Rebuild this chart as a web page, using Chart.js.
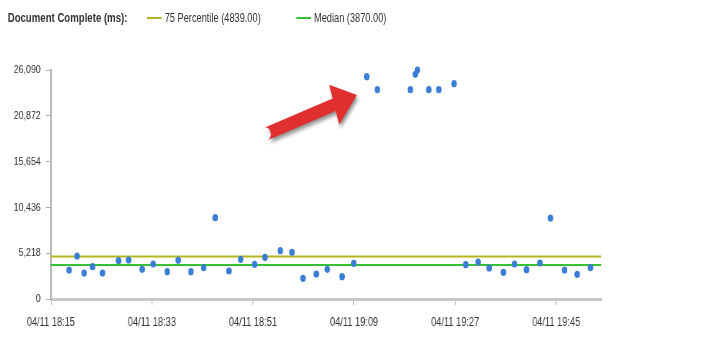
<!DOCTYPE html>
<html><head><meta charset="utf-8">
<script src="https://cdn.jsdelivr.net/npm/chart.js@4"></script>
<style>
html,body{margin:0;padding:0;background:#fff;overflow:hidden;width:705px;height:356px;}
#wrap{position:relative;width:916px;height:356px;transform:scaleX(0.76965);transform-origin:0 0;}
#chart{position:absolute;left:0;top:0;}
.lg{position:absolute;top:11px;font-family:'Liberation Sans',Arial,sans-serif;font-size:12px;color:#333;white-space:nowrap;line-height:14px;}
.sw{position:absolute;top:17px;height:2px;width:19px;}
</style></head>
<body>
<div id="wrap">
<canvas id="chart" width="916" height="356"></canvas>
<div class="lg" style="left:10px;font-weight:bold;font-size:12.5px;">Document Complete (ms):</div>
<div class="sw" style="left:191px;background:#b5b41c;"></div>
<div class="lg" style="left:214px;">75 Percentile (4839.00)</div>
<div class="sw" style="left:385px;background:#36c036;"></div>
<div class="lg" style="left:408px;">Median (3870.00)</div>
</div>
<script>
const dateLabel = '04/11';
const startTime = '18:15';
const endTime = '19:53';
const times = ['18:18:16','18:19:41','18:20:56','18:22:26','18:24:13','18:27:04','18:28:51','18:31:16','18:33:14','18:35:44',
  '18:37:41','18:39:57','18:42:13','18:44:17','18:46:43','18:48:49','18:51:18','18:53:08','18:55:52','18:57:57',
  '18:59:55','19:02:17','19:04:14','19:06:52','19:08:57','19:11:16','19:13:09','19:19:02','19:19:55','19:20:17',
  '19:22:19','19:24:06','19:26:49','19:28:54','19:31:06','19:33:04','19:35:36','19:37:34','19:39:43','19:42:06',
  '19:43:59','19:46:29','19:48:44','19:51:07'];
const docComplete = [3304,4899,2962,3680,2962,4363,4443,3384,3988,3110,
  4409,3110,3566,9263,3190,4523,3953,4751,5503,5320,
  2358,2848,3384,2541,4067,25327,23846,23846,25600,26090,
  23846,23846,24529,3908,4215,3532,3042,3988,3338,4101,
  9228,3304,2814,3566];
const percentile75 = 4839;
const median = 3870;
const xTickTimes = ['18:15','18:33','18:51','19:09','19:27','19:45'];
const yTickValues = [0,5218,10436,15654,20872,26090];
const arrowFrom = {t:'18:53:18', v:18800};
const arrowTo = {t:'19:09:30', v:23240};

function toMin(s){const p=s.split(':').map(Number);return p[0]*60+p[1]+(p[2]||0)/60;}
const base = toMin(startTime);
const rel = s => toMin(s)-base;
const xMax = rel(endTime);
function fmt(m){const tot=Math.round(m+base);const h=Math.floor(tot/60),mm=tot%60;return dateLabel+' '+String(h).padStart(2,'0')+':'+String(mm).padStart(2,'0');}

const FONT = "'Liberation Sans',Arial,sans-serif";

const arrowPlugin = {
  id:'arrow',
  afterDatasetsDraw(chart){
    const xs=chart.scales.x, ys=chart.scales.y, ctx=chart.ctx;
    const x0=xs.getPixelForValue(rel(arrowFrom.t)), y0=ys.getPixelForValue(arrowFrom.v);
    const x1=xs.getPixelForValue(rel(arrowTo.t)), y1=ys.getPixelForValue(arrowTo.v);
    const dx=x1-x0, dy=y1-y0, L=Math.hypot(dx,dy), ux=dx/L, uy=dy/L, px=-uy, py=ux;
    const sw=6.5, hw=21, hl=31;
    const bx=x1-ux*hl, by=y1-uy*hl;
    ctx.save();
    ctx.shadowColor='rgba(0,0,0,0.45)'; ctx.shadowBlur=4; ctx.shadowOffsetX=2; ctx.shadowOffsetY=3;
    ctx.fillStyle='#df2f2f';
    ctx.beginPath();
    ctx.moveTo(x0+px*sw,y0+py*sw);
    ctx.lineTo(bx+px*sw,by+py*sw);
    ctx.lineTo(bx+px*hw,by+py*hw);
    ctx.lineTo(x1,y1);
    ctx.lineTo(bx-px*hw,by-py*hw);
    ctx.lineTo(bx-px*sw,by-py*sw);
    ctx.lineTo(x0-px*sw,y0-py*sw);
    ctx.arc(x0,y0,sw,Math.atan2(-py,-px),Math.atan2(py,px),false);
    ctx.closePath();
    ctx.fill();
    ctx.restore();
  }
};

new Chart(document.getElementById('chart'),{
  type:'scatter',
  data:{datasets:[
    {label:'Document Complete', data:times.map((t,i)=>({x:rel(t),y:docComplete[i]})), pointStyle:'circle', pointRadius:3.6, pointBorderWidth:0, backgroundColor:'#3a7dd4', borderColor:'#3a7dd4', order:0, clip:false},
    {type:'line', label:'75 Percentile', data:[{x:0,y:percentile75},{x:xMax,y:percentile75}], borderColor:'#b5b41c', borderWidth:2, pointRadius:0, order:1},
    {type:'line', label:'Median', data:[{x:0,y:median},{x:xMax,y:median}], borderColor:'#36c036', borderWidth:2, pointRadius:0, order:2}
  ]},
  options:{
    responsive:false, animation:false, devicePixelRatio:1,
    layout:{padding:{left:0,top:70,right:135,bottom:0}},
    plugins:{legend:{display:false}, tooltip:{enabled:false}},
    scales:{
      x:{type:'linear', min:0, max:xMax,
        afterBuildTicks(a){a.ticks=xTickTimes.map(t=>({value:rel(t)}));},
        afterFit(a){a.height=57;},
        ticks:{callback:v=>fmt(v), color:'#333', font:{family:FONT,size:12}, padding:10, maxRotation:0, autoSkip:false},
        grid:{drawOnChartArea:false, drawTicks:true, tickLength:6, color:'#aaa'},
        border:{color:'#c8c8c8', width:3}
      },
      y:{min:0, max:26090,
        afterBuildTicks(a){a.ticks=yTickValues.map(v=>({value:v}));},
        afterFit(a){a.width=66;},
        ticks:{callback:v=>v.toLocaleString('en-US'), color:'#333', font:{family:FONT,size:11.5}, padding:7},
        grid:{drawOnChartArea:false, drawTicks:true, tickLength:6, color:'#aaa'},
        border:{color:'#b5b5b5', width:2.5}
      }
    }
  },
  plugins:[arrowPlugin]
});
</script>
</body></html>
